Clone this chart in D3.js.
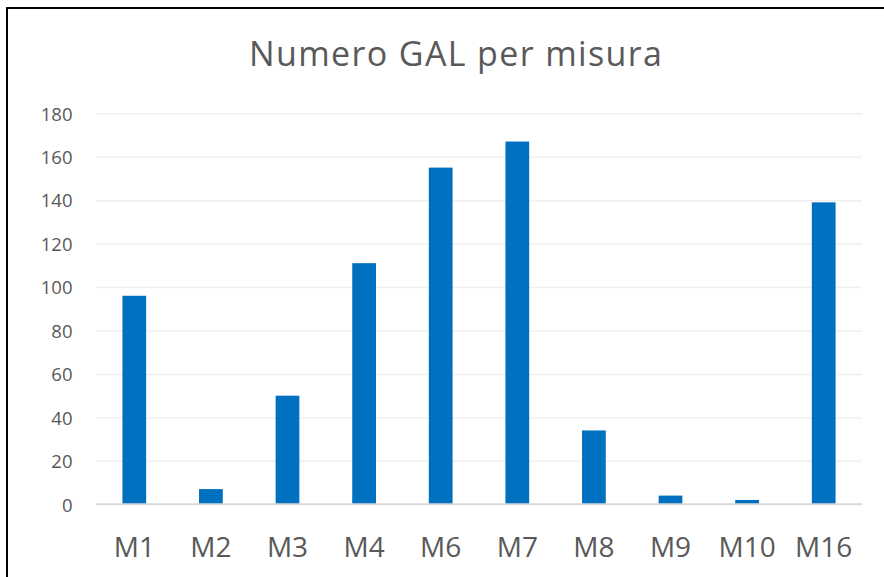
<!DOCTYPE html>
<html>
<head>
<meta charset="utf-8">
<script src="https://cdn.jsdelivr.net/npm/d3@7"></script>
<style>
  body { margin: 0; background: #fff; }
  svg { display: block; font-family: "Open Sans", sans-serif; }
</style>
</head>
<body>
<svg id="chart" width="884" height="577"></svg>
<script>
const categories = ['M1', 'M2', 'M3', 'M4', 'M6', 'M7', 'M8', 'M9', 'M10', 'M16'];
const values = [96, 7, 50, 111, 155, 167, 34, 4, 2, 139];
const yTicks = [0, 20, 40, 60, 80, 100, 120, 140, 160, 180];
const title = 'Numero GAL per misura';

(function() {
  const svg = d3.select('#chart');
  const width = 884, height = 577;
  const margin = {'top': 113.3, 'bottom': height - 504.3, 'left': 96, 'right': width - 862};
  const textColor = '#595959';

  svg.append('rect')
    .attr('width', width).attr('height', height).attr('fill', '#fff');
  // outer chart border, runs off the right and bottom edge
  svg.append('rect')
    .attr('x', 7).attr('y', 8)
    .attr('width', width + 10).attr('height', height + 10)
    .attr('fill', 'none').attr('stroke', '#000').attr('stroke-width', 2);

  const x = d3.scaleBand()
    .domain(categories)
    .range([margin.left, width - margin.right]);
  const y = d3.scaleLinear()
    .domain([0, 180])
    .range([height - margin.bottom, margin.top]);

  // gridlines
  svg.append('g')
    .attr('transform', 'translate(' + margin.left + ',0)')
    .call(d3.axisLeft(y).tickValues(yTicks.slice(1)).tickSize(-(width - margin.left - margin.right)).tickFormat(''))
    .call(g => g.select('.domain').remove())
    .call(g => g.selectAll('line').attr('stroke', '#f0f0f0').attr('stroke-width', 1.5));

  // y tick labels
  svg.append('g')
    .attr('transform', 'translate(' + (margin.left - 23.5) + ',0)')
    .call(d3.axisLeft(y).tickValues(yTicks).tickSize(0).tickPadding(0))
    .call(g => g.select('.domain').remove())
    .call(g => g.selectAll('text')
      .attr('font-family', '"Open Sans", sans-serif')
      .attr('font-size', 18.5)
      .attr('fill', textColor)
      .attr('dy', 6.7));

  // bars
  const barW = x.bandwidth() * 0.31;
  svg.append('g')
    .selectAll('rect')
    .data(values)
    .enter()
    .append('rect')
    .attr('x', (d, i) => x(categories[i]) + (x.bandwidth() - barW) / 2)
    .attr('y', d => y(d))
    .attr('width', barW)
    .attr('height', d => y(0) - y(d))
    .attr('fill', '#0070C0');

  // baseline
  svg.append('line')
    .attr('x1', margin.left).attr('x2', width - margin.right)
    .attr('y1', y(0)).attr('y2', y(0))
    .attr('stroke', '#d9d9d9').attr('stroke-width', 2);

  // x labels
  svg.append('g')
    .attr('transform', 'translate(0,' + 556.7 + ')')
    .call(d3.axisBottom(x).tickSize(0).tickPadding(0))
    .call(g => g.select('.domain').remove())
    .call(g => g.selectAll('text')
      .attr('font-family', '"Open Sans", sans-serif')
      .attr('font-size', 28)
      .attr('fill', textColor)
      .attr('dy', 0)
      .attr('y', 0));

  svg.append('text')
    .attr('x', 455.5).attr('y', 66)
    .attr('text-anchor', 'middle')
    .attr('font-size', 34)
    .attr('fill', textColor)
    .attr('textLength', 413)
    .attr('lengthAdjust', 'spacing')
    .text(title);
})();
</script>
</body>
</html>
